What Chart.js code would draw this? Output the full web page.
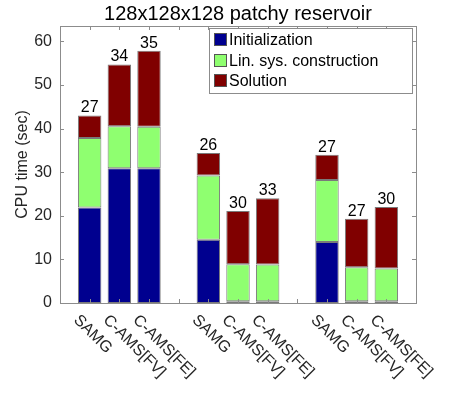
<!DOCTYPE html>
<html>
<head>
<meta charset="utf-8">
<script src="https://cdn.jsdelivr.net/npm/chart.js@4.4.0/dist/chart.umd.min.js"></script>
<style>
  html, body { margin: 0; padding: 0; background: #fff; }
  .chart-box { position: relative; width: 460px; height: 399px; }
</style>
</head>
<body>
<div class="chart-box"><canvas id="cpu-chart"></canvas></div>
<script>
// one bar per solver run, three groups of three
const solvers = ['SAMG', 'C-AMS[FV]', 'C-AMS[FE]', 'SAMG', 'C-AMS[FV]', 'C-AMS[FE]', 'SAMG', 'C-AMS[FV]', 'C-AMS[FE]'];
const initTime = [21.9, 30.9, 30.9, 14.5, 0.4, 0.4, 14.0, 0.4, 0.4];
const linSysTime = [15.9, 9.6, 9.5, 14.7, 8.5, 8.4, 14.2, 7.8, 7.5];
const solutionTime = [5.2, 14.2, 17.4, 5.2, 12.2, 15.2, 5.8, 11.1, 14.1];
const iterations = [27, 34, 35, 26, 30, 33, 27, 27, 30];
const yTicks = [0, 10, 20, 30, 40, 50, 60];
const seriesNames = ['Initialization', 'Lin. sys. construction', 'Solution'];
const seriesColors = ['#00008f', '#8fff70', '#800000'];
const chartTitle = '128x128x128 patchy reservoir';

const FONT = '"Liberation Sans", Arial, sans-serif';
const TEXT = '#262626';
const AXIS = '#8c8c8c';

// pad the bars with empty slots: one at each end and one between groups
const slotOf = i => i + 1 + Math.floor(i / 3);
const slotCount = solvers.length + 4;
function padded(values) {
  const out = new Array(slotCount).fill(null);
  values.forEach((v, i) => { out[slotOf(i)] = v; });
  return out;
}
const labels = padded(solvers).map(s => s || '');

const decorations = {
  id: 'decorations',
  afterDatasetsDraw(chart) {
    const { ctx, chartArea: a, scales } = chart;
    const x = scales.x, y = scales.y;
    ctx.save();

    // title centred over the axes
    ctx.fillStyle = '#000';
    ctx.font = '20px ' + FONT;
    ctx.textAlign = 'center';
    ctx.textBaseline = 'alphabetic';
    ctx.fillText(chartTitle, (a.left + a.right) / 2, 20);

    // axes box with inward ticks
    ctx.strokeStyle = AXIS;
    ctx.lineWidth = 1;
    ctx.strokeRect(Math.round(a.left) + 0.5, Math.round(a.top) + 0.5,
      Math.round(a.right - a.left), Math.round(a.bottom - a.top));
    ctx.beginPath();
    for (let s = 1; s < slotCount - 1; s++) {
      const px = Math.round(x.getPixelForValue(s)) + 0.5;
      ctx.moveTo(px, a.bottom); ctx.lineTo(px, a.bottom - 4);
      ctx.moveTo(px, a.top); ctx.lineTo(px, a.top + 4);
    }
    yTicks.forEach(v => {
      const py = Math.round(y.getPixelForValue(v)) + 0.5;
      ctx.moveTo(a.left, py); ctx.lineTo(a.left + 4, py);
      ctx.moveTo(a.right, py); ctx.lineTo(a.right - 4, py);
    });
    ctx.stroke();

    // iteration counts above bars
    ctx.fillStyle = '#000';
    ctx.font = '16px ' + FONT;
    iterations.forEach((n, i) => {
      const total = initTime[i] + linSysTime[i] + solutionTime[i];
      ctx.fillText(String(n), x.getPixelForValue(slotOf(i)), y.getPixelForValue(total) - 3);
    });

    // rotated x tick labels
    ctx.fillStyle = TEXT;
    ctx.textAlign = 'left';
    ctx.textBaseline = 'top';
    solvers.forEach((s, i) => {
      const px = x.getPixelForValue(slotOf(i));
      ctx.save();
      ctx.translate(px - 8, a.bottom + 9);
      ctx.rotate(Math.PI / 4);
      ctx.fillText(s, 0, 0);
      ctx.restore();
    });

    // legend inside the axes
    const lx = 209.5, ly = 28.5, lw = 203, lh = 65;
    ctx.fillStyle = '#fff';
    ctx.fillRect(lx, ly, lw, lh);
    ctx.strokeStyle = AXIS;
    ctx.strokeRect(lx, ly, lw, lh);
    ctx.textBaseline = 'middle';
    seriesNames.forEach((name, k) => {
      const cy = 39.5 + k * 20.7;
      ctx.fillStyle = seriesColors[k];
      ctx.fillRect(214, Math.round(cy - 6.5), 13, 13);
      ctx.strokeStyle = '#555';
      ctx.strokeRect(214.5, Math.round(cy - 6.5) + 0.5, 12, 12);
      ctx.fillStyle = '#000';
      ctx.fillText(name, 229, cy + 1);
    });
    ctx.restore();
  }
};

const datasets = [initTime, linSysTime, solutionTime].map((vals, k) => ({
  label: seriesNames[k],
  data: padded(vals),
  backgroundColor: seriesColors[k],
  borderColor: '#7a7a7a',
  borderWidth: 1,
  borderSkipped: false,
  categoryPercentage: 1,
  barPercentage: 0.79
}));

new Chart(document.getElementById('cpu-chart'), {
  type: 'bar',
  data: { labels, datasets },
  plugins: [decorations],
  options: {
    responsive: true,
    maintainAspectRatio: false,
    animation: false,
    layout: { padding: { left: 0, right: 44, top: 26, bottom: 0 } },
    plugins: {
      legend: { display: false },
      tooltip: { enabled: false },
      title: { display: false }
    },
    scales: {
      x: {
        stacked: true,
        offset: false,
        grid: { display: false },
        border: { display: false },
        ticks: { display: false },
        afterFit: scale => { scale.height = 96; }
      },
      y: {
        stacked: true,
        min: 0,
        max: 63.5,
        grid: { display: false, drawTicks: false },
        border: { display: false },
        afterBuildTicks: scale => { scale.ticks = yTicks.map(v => ({ value: v })); },
        ticks: {
          color: TEXT,
          padding: 8,
          font: { family: FONT, size: 16 }
        },
        title: {
          display: true,
          text: 'CPU time (sec)',
          color: TEXT,
          font: { family: FONT, size: 16 },
          padding: { top: 13, bottom: 0 }
        },
        afterFit: scale => { scale.width = 60; }
      }
    }
  }
});
</script>
</body>
</html>
